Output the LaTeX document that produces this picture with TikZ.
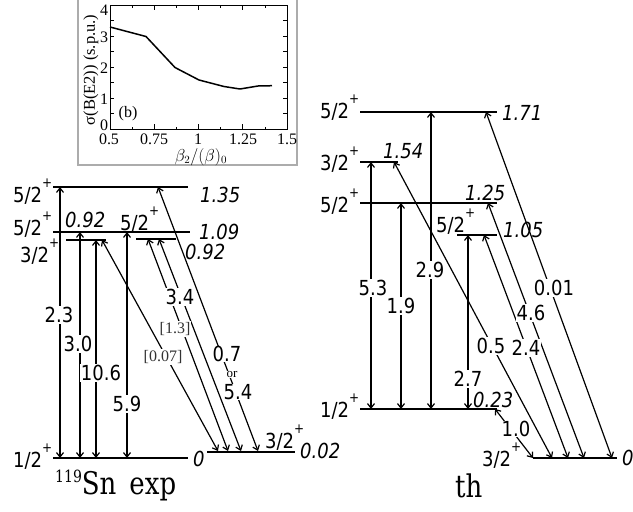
\documentclass[tikz,border=0pt]{standalone}
\usepackage{fontspec}
\setmainfont{DejaVu Sans}
\newfontfamily\dvserif{DejaVu Serif}
\newfontfamily\tms{Liberation Serif}
\usetikzlibrary{arrows.meta}
\newcommand\tl[1]{\scalebox{1}[1.15]{#1}}
\newcommand\jpi[1]{\tl{#1\raisebox{0.68em}{\fontsize{12}{12}\selectfont +}}}
\tikzset{
  lev/.style={line width=1.8pt},
  tr/.style={line width=1.2pt,{Straight Barb[length=4.5pt,width=7pt]}-{Straight Barb[length=4.5pt,width=7pt]}},
  num/.style={font=\fontsize{18}{18}\selectfont, fill=white, inner sep=1pt},
  en/.style={font=\fontsize{18}{18}\selectfont\itshape, inner sep=0pt, anchor=base west},
  sp/.style={font=\fontsize{18}{18}\selectfont, inner sep=0pt, anchor=base west},
  br/.style={font=\tms\fontsize{16}{16}\selectfont, text=black!80, fill=white, inner sep=1pt},
  tick/.style={font=\tms\fontsize{16}{16}\selectfont, inner sep=0pt},
  ttl/.style={font=\dvserif\fontsize{26}{26}\selectfont, inner sep=0pt, anchor=base west}
}
\begin{document}
\begin{tikzpicture}[x=1pt,y=-1pt]
\useasboundingbox (0,0) rectangle (633,512);
\fill[white] (0,0) rectangle (633,512);
% ---------------- inset plot ----------------
\draw[gray!65, line width=1.2pt] (78,-3) -- (78,165) -- (297,165) -- (297,-3);
\draw[line width=1pt] (110,5) rectangle (287,129);
\foreach \v in {0.5,0.75,1,1.25,1.5}{
  \pgfmathsetmacro\X{110+(\v-0.5)*177}
  \draw[line width=0.7pt] (\X,129) -- (\X,124);
  \draw[line width=0.7pt] (\X,5) -- (\X,10);
}
\foreach \v in {0.625,0.875,1.125,1.375}{
  \pgfmathsetmacro\X{110+(\v-0.5)*177}
  \draw[line width=0.7pt] (\X,129) -- (\X,126.5);
  \draw[line width=0.7pt] (\X,5) -- (\X,7.5);
}
\foreach \v in {0,0.5,...,4}{
  \pgfmathsetmacro\Y{129-\v*31}
  \draw[line width=0.7pt] (110,\Y) -- (114,\Y);
  \draw[line width=0.7pt] (287,\Y) -- (283,\Y);
}
\node[tick] (y4) at (104,10) {4};
\node[tick] (y3) at (104,37) {3};
\node[tick] (y2) at (104,68) {2};
\node[tick] (y1) at (104,99) {1};
\node[tick] (y0) at (104,125) {0};
\node[tick] (x1) at (109,139.5) {0.5};
\node[tick] (x2) at (154,139.5) {0.75};
\node[tick] (x3) at (198,139.5) {1};
\node[tick] (x4) at (243,139.5) {1.25};
\node[tick] (x5) at (287,139.5) {1.5};
\node[tick] (xl) at (201,157) {$\beta_2/(\beta)_0$};
\node[tick, rotate=90, font=\tms\fontsize{16.5}{16.5}\selectfont] (yl) at (91,70) {σ(B(E2)) (s.p.u.)};
\node[tick, font=\tms\fontsize{16}{16}\selectfont] (pb) at (128,114) {(b)};
\draw[line width=1.5pt, line join=round] plot coordinates {(110,27) (146,36.5) (175,67.5) (199,80) (224,86.5) (240,89) (258,86) (272,85.7)};
% ---------------- experimental ----------------
\coordinate (a0) at (60,458);  \coordinate (a1) at (60,187);
\coordinate (b0) at (80,458);  \coordinate (b1) at (80,232);
\coordinate (c0) at (96,458);  \coordinate (c1) at (96,240);
\coordinate (d0) at (127,458); \coordinate (d1) at (127,232);
\coordinate (e0) at (218,451); \coordinate (e1) at (102,240);
\coordinate (f0) at (228,451); \coordinate (f1) at (148,239);
\coordinate (g0) at (241,451); \coordinate (g1) at (159,239);
\coordinate (h0) at (258,451); \coordinate (h1) at (158,187);
\draw[tr] (a0) -- (a1);
\draw[tr] (b0) -- (b1);
\draw[tr] (c0) -- (c1);
\draw[tr] (d0) -- (d1);
\draw[tr] (e0) -- (e1);
\draw[tr] (f0) -- (f1);
\draw[tr] (g0) -- (g1);
\draw[tr] (h0) -- (h1);
\node[num] (la) at (59,315) {\tl{2.3}};
\node[num] (lb) at (78,344) {\tl{3.0}};
\node[num] (lc) at (101,373) {\tl{10.6}};
\node[num] (ld) at (127,404) {\tl{5.9}};
\node[br] (le) at (163,357) {[0.07]};
\node[br] (lf) at (175,329) {[1.3]};
\node[num] (lg) at (180,297) {\tl{3.4}};
\node[num, inner sep=0.5pt] (lh) at (227,354) {\tl{0.7}};
\node[br, text=black, font=\tms\fontsize{13}{13}\selectfont, inner sep=0pt] (lor) at (232,374.5) {or};
\node[num, inner sep=0.5pt] (lh2) at (238,392) {\tl{5.4}};
\draw[lev] (53,187) -- (188,187);
\draw[lev] (53,232) -- (190,232);
\draw[lev] (66,240) -- (106,240);
\draw[lev] (136,239) -- (176,239);
\draw[lev] (53,458) -- (188,458);
\draw[lev] (207,452) -- (295,452);
\node[sp] (s1) at (13,202) {\jpi{5/2}};
\node[sp] (s2) at (13,235) {\jpi{5/2}};
\node[sp] (s3) at (20,262) {\jpi{3/2}};
\node[sp] (s4) at (13,467) {\jpi{1/2}};
\node[sp] (s5) at (120,230) {\jpi{5/2}};
\node[en] (n1) at (65,227) {\tl{0.92}};
\node[en] (n2) at (200,202) {\tl{1.35}};
\node[en] (n3) at (199,239) {\tl{1.09}};
\node[en] (n4) at (185,259) {\tl{0.92}};
\node[en] (n5) at (193,466) {\tl{0}};
\node[sp] (s6) at (265,448) {\jpi{3/2}};
\node[en] (n6) at (300,458) {\tl{0.02}};
\node[ttl] (t1) at (55,494) {\scalebox{1}[1.2]{\raisebox{10pt}{\fontsize{14}{14}\selectfont 119}Sn\hspace{13pt}exp}};
% ---------------- theory ----------------
\coordinate (p0) at (371,409); \coordinate (p1) at (371,162);
\coordinate (q0) at (401,409); \coordinate (q1) at (401,203);
\coordinate (r0) at (431,409); \coordinate (r1) at (431,112);
\coordinate (s0) at (468,409); \coordinate (s1x) at (468,235);
\coordinate (u0) at (552,458); \coordinate (u1) at (394,162);
\coordinate (v0) at (568,458); \coordinate (v1) at (484,235);
\coordinate (w0) at (584,458); \coordinate (w1) at (488,203);
\coordinate (z0) at (612,458); \coordinate (z1) at (486,112);
\coordinate (k0) at (533,458); \coordinate (k1) at (495,409);
\draw[tr] (p0) -- (p1);
\draw[tr] (q0) -- (q1);
\draw[tr] (r0) -- (r1);
\draw[tr] (s0) -- (s1x);
\draw[tr] (u0) -- (u1);
\draw[tr] (v0) -- (v1);
\draw[tr] (w0) -- (w1);
\draw[tr] (z0) -- (z1);
\draw[tr] (k0) -- (k1);
\node[num] (lp) at (373,288) {\tl{5.3}};
\node[num] (lq) at (401,306) {\tl{1.9}};
\node[num] (lr) at (430,270) {\tl{2.9}};
\node[num] (ls) at (468,379) {\tl{2.7}};
\node[num] (lu) at (491,346) {\tl{0.5}};
\node[num] (lv) at (526,348) {\tl{2.4}};
\node[num] (lw) at (531,313) {\tl{4.6}};
\node[num] (lz) at (554,288) {\tl{0.01}};
\node[num, inner sep=0.5pt] (lk) at (516,429) {\tl{1.0}};
\draw[lev] (360,112) -- (497,112);
\draw[lev] (360,162) -- (398,162);
\draw[lev] (360,203) -- (497,203);
\draw[lev] (457,235) -- (497,235);
\draw[lev] (360,409) -- (497,409);
\draw[lev] (533,458) -- (617,458);
\node[sp] (m1) at (320,118) {\jpi{5/2}};
\node[en] (o1) at (502,120) {\tl{1.71}};
\node[sp] (m2) at (320,170) {\jpi{3/2}};
\node[en] (o2) at (383,158) {\tl{1.54}};
\node[sp] (m3) at (320,212) {\jpi{5/2}};
\node[en] (o3) at (465,200) {\tl{1.25}};
\node[sp] (m4) at (436,232) {\jpi{5/2}};
\node[en] (o4) at (503,237) {\tl{1.05}};
\node[sp] (m5) at (320,417) {\jpi{1/2}};
\node[en] (o5) at (473,407) {\tl{0.23}};
\node[sp] (m6) at (482,466) {\jpi{3/2}};
\node[en] (o6) at (622,465) {\tl{0}};
\node[ttl] (t2) at (455,497) {\scalebox{1}[1.2]{th}};
\end{tikzpicture}
\end{document}
